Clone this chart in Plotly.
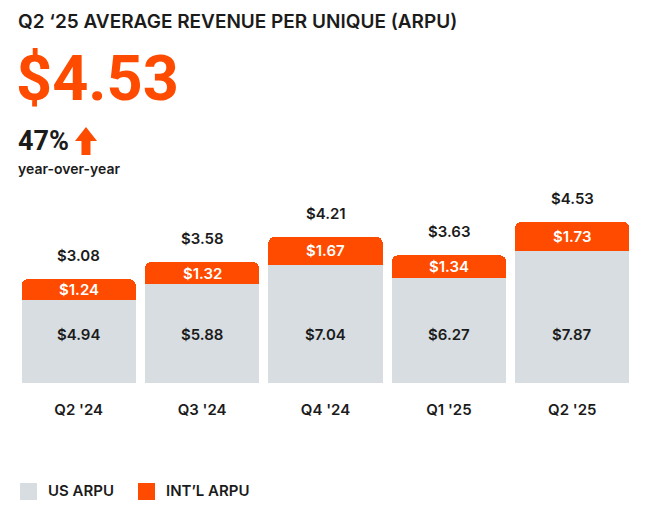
import plotly.graph_objects as go

# ARPU by quarter (USD)
quarters = ["Q2 '24", "Q3 '24", "Q4 '24", "Q1 '25", "Q2 '25"]
us_arpu = [4.94, 5.88, 7.04, 6.27, 7.87]
intl_arpu = [1.24, 1.32, 1.67, 1.34, 1.73]
total_arpu = [3.08, 3.58, 4.21, 3.63, 4.53]

GRAY = "#d7dde1"
ORANGE = "#ff4b00"
INK = "#1b1b1b"
FONT = "Inter"

# page has an 8px body margin, so the figure is a bit smaller than the window
OFF = 8
W, H = 650 - 2 * OFF, 508 - 2 * OFF
L, R, T, B = 9, 8, 182, 117


def px(x, y):
    # window pixel position -> paper coords
    x, y = x - OFF, y - OFF
    return (x - L) / (W - L - R), (H - B - y) / (H - T - B)


fig = go.Figure()
fig.add_trace(go.Bar(x=quarters, y=us_arpu, name="US ARPU", marker_color=GRAY,
                     marker_line_width=0, hoverinfo="skip"))
fig.add_trace(go.Bar(x=quarters, y=intl_arpu, name="INT\u2019L ARPU", marker_color=ORANGE,
                     marker_line_width=0, marker_cornerradius=6, hoverinfo="skip"))

# value labels
for q, us, intl, tot in zip(quarters, us_arpu, intl_arpu, total_arpu):
    fig.add_annotation(x=q, y=2.9, text=f"${us:.2f}", showarrow=False,
                       font=dict(family=FONT, size=15, color=INK, weight=600))
    fig.add_annotation(x=q, y=us + intl / 2, text=f"${intl:.2f}", showarrow=False,
                       font=dict(family=FONT, size=15, color="white", weight=600))
    fig.add_annotation(x=q, y=us + intl, text=f"${tot:.2f}", showarrow=False,
                       yanchor="bottom", yshift=12,
                       font=dict(family=FONT, size=15, color=INK, weight=600))


# header texts
def header(x, y, text, size, color=INK, weight=600, family=FONT):
    xp, yp = px(x, y)
    fig.add_annotation(xref="paper", yref="paper", x=xp, y=yp, text=text,
                       showarrow=False, xanchor="left", yanchor="middle", borderpad=0,
                       font=dict(family=family, size=size, color=color, weight=weight))


header(17, 21, "Q2 \u201825 AVERAGE REVENUE PER UNIQUE (ARPU)", 19, weight=600)
header(15, 79, "$4.53", 63, color=ORANGE, weight=700, family="Roboto")
header(17, 141, "47%", 27, weight=700, family="Roboto")
header(17, 168, "year-over-year", 14, weight=600)

# up arrow next to 47%
pts = [(75, 141), (86, 127), (97, 141), (90.5, 141), (90.5, 155), (81.5, 155), (81.5, 141)]
path = "M " + " L ".join(f"{px(a, b)[0]:.4f},{px(a, b)[1]:.4f}" for a, b in pts) + " Z"
fig.add_shape(type="path", path=path, xref="paper", yref="paper",
              fillcolor=ORANGE, line_width=0)

# legend drawn by hand to get the large square swatches
for x0, color, label in [(20, GRAY, "US ARPU"), (138, ORANGE, "INT\u2019L ARPU")]:
    a0, b0 = px(x0, 483)
    a1, b1 = px(x0 + 17, 500)
    fig.add_shape(type="rect", xref="paper", yref="paper", x0=a0, x1=a1, y0=b1, y1=b0,
                  fillcolor=color, line_width=0)
    header(x0 + 27, 490, label, 15, weight=600)

fig.update_layout(
    width=W, height=H,
    margin=dict(l=L, r=R, t=T, b=B),
    barmode="stack", bargap=0.075,
    showlegend=False,
    plot_bgcolor="white", paper_bgcolor="white",
    font=dict(family=FONT, color=INK),
)
fig.update_xaxes(showgrid=False, showline=False, zeroline=False, ticks="",
                 tickfont=dict(family=FONT, size=15, color=INK, weight=600),
                 ticklabelstandoff=16)
fig.update_yaxes(range=[0, 11.5], visible=False, showgrid=False)

fig.write_html("out.html")
